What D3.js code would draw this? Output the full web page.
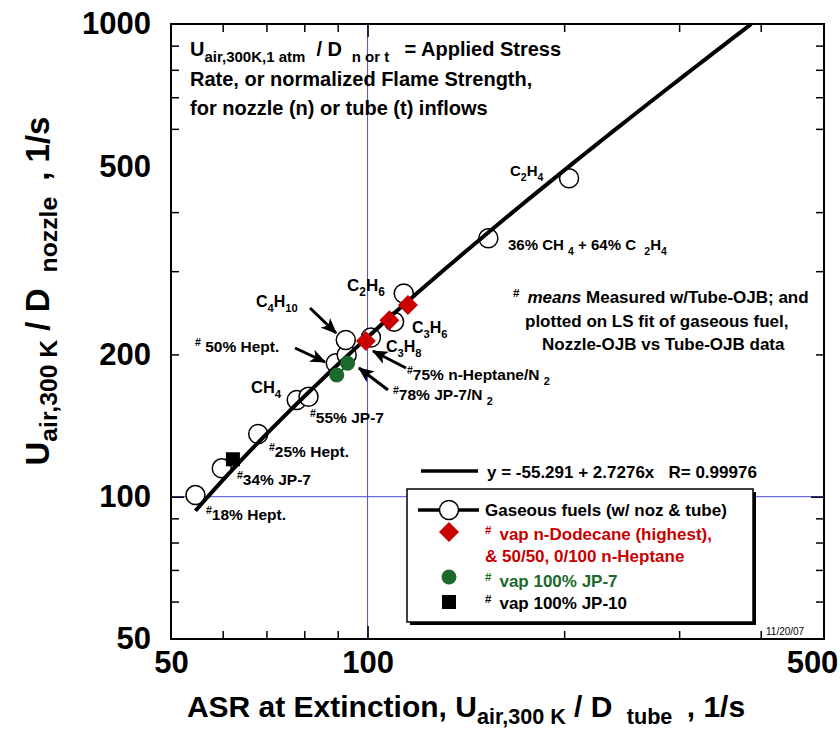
<!DOCTYPE html>
<html>
<head>
<meta charset="utf-8">
<script src="https://cdn.jsdelivr.net/npm/d3@7"></script>
<style>
  body { margin: 0; background: #fff; }
  svg { font-family: "Liberation Sans", Arial, sans-serif; font-weight: bold; }
  text { white-space: pre; }
</style>
</head>
<body>
<svg id="chart" width="840" height="731"></svg>
<script>
// gaseous fuels (open circles): tube ASR vs nozzle ASR
const gasTube   = [54.5, 59.8, 68.0, 77.9, 81.2, 89.4, 92.9, 92.6, 101.2, 109.8, 113.6, 153.1, 203.5];
const gasNozzle = [100.8, 114.8, 135.7, 160.2, 162.7, 191.6, 199.5, 214.6, 217.2, 234.6, 269.1, 352.2, 471.6];
// vaporized liquids plotted on the LS fit
const dodecaneTube   = [115.3, 108.0, 99.4];
const dodecaneNozzle = [254.4, 236.2, 213.6];
const jp7Tube   = [93.2, 89.7];
const jp7Nozzle = [191.6, 180.9];
const jp10Tube   = [62.2];
const jp10Nozzle = [120.0];
// LS fit y = a + b x
const fitIntercept = -55.291;
const fitSlope = 2.7276;
const fitStart = 54.5;
const fitEnd = 1000;           // line runs until it leaves the top of the plot
// ticks
const xTickLabels = [50, 100, 500];
const yTickLabels = [50, 100, 200, 500, 1000];
const xMinorTicks = [60, 70, 80, 90, 200, 300, 400];
const yMinorTicks = [60, 70, 80, 90, 200, 300, 400, 600, 700, 800, 900];
const majorTicks = [100];

const svg = d3.select('#chart');
const x = d3.scaleLog().domain([50, 500]).range([171, 824]);
const y = d3.scaleLog().domain([50, 1000]).range([639, 24]);

// text with sub/superscripts; parts = [{t, k: 0 normal | 1 sub | 2 sup, it, dx}]
function rich(g, px, py, parts, size, opt = {}) {
  const t = g.append('text').attr('x', px).attr('y', py)
    .attr('font-size', size)
    .attr('fill', opt.fill || '#000')
    .attr('text-anchor', opt.anchor || 'start');
  if (opt.rotate) t.attr('transform', `rotate(-90,${px},${py})`);
  let shift = 0;
  parts.forEach(p => {
    const k = p.k || 0;
    const target = k === 1 ? size * (opt.subDrop || 0.3) : k === 2 ? -size * 0.38 : 0;
    const ts = t.append('tspan').text(p.t).attr('dy', target - shift);
    if (k) ts.attr('font-size', size * (k === 1 ? (opt.subScale || 0.7) : 0.68));
    if (p.it) ts.attr('font-style', 'italic');
    if (p.dx) ts.attr('dx', p.dx);
    shift = target;
  });
  return t;
}
const N = t => ({ t });
const S = t => ({ t, k: 1 });
const P = t => ({ t, k: 2 });

// reference lines at 100
svg.append('line').attr('x1', x(100)).attr('x2', x(100)).attr('y1', y(1000)).attr('y2', y(50))
  .attr('stroke', '#4a4ae6').attr('stroke-width', 1);
svg.append('line').attr('x1', x(50)).attr('x2', x(500)).attr('y1', y(100)).attr('y2', y(100))
  .attr('stroke', '#4a4ae6').attr('stroke-width', 1);

// ticks on all four sides, pointing inward
function ticks(axisFn, vals, size, transform, scale) {
  svg.append('g').attr('transform', transform)
    .call(axisFn(scale).tickValues(vals).tickSize(size).tickFormat(''))
    .call(g => g.select('.domain').remove())
    .selectAll('line').attr('stroke', '#000').attr('stroke-width', 1.5);
}
ticks(d3.axisBottom, xMinorTicks, -8, `translate(0,${y(50)})`, x);
ticks(d3.axisBottom, majorTicks, -13, `translate(0,${y(50)})`, x);
ticks(d3.axisTop, xMinorTicks, -8, `translate(0,${y(1000)})`, x);
ticks(d3.axisTop, majorTicks, -13, `translate(0,${y(1000)})`, x);
ticks(d3.axisLeft, yMinorTicks, -8, `translate(${x(50)},0)`, y);
ticks(d3.axisLeft, majorTicks, -13, `translate(${x(50)},0)`, y);
ticks(d3.axisRight, yMinorTicks, -8, `translate(${x(500)},0)`, y);
ticks(d3.axisRight, majorTicks, -13, `translate(${x(500)},0)`, y);

// tick labels
const xl = svg.append('g').attr('transform', `translate(0,${y(50)})`)
  .call(d3.axisBottom(x).tickValues(xTickLabels).tickSize(0).tickPadding(12).tickFormat(d3.format('d')));
xl.select('.domain').remove();
xl.selectAll('text').attr('font-size', 31).attr('font-family', null).attr('fill', '#000')
  .filter(d => d === 500).attr('dx', -12);
const yl = svg.append('g').attr('transform', `translate(${x(50)},0)`)
  .call(d3.axisLeft(y).tickValues(yTickLabels).tickSize(0).tickPadding(20).tickFormat(d3.format('d')));
yl.select('.domain').remove();
yl.selectAll('text').attr('font-size', 31).attr('font-family', null).attr('fill', '#000');

// frame
svg.append('rect').attr('x', x(50)).attr('y', y(1000))
  .attr('width', x(500) - x(50)).attr('height', y(50) - y(1000))
  .attr('fill', 'none').attr('stroke', '#000').attr('stroke-width', 2);

// axis titles
rich(svg, 466, 717, [N('ASR at Extinction, U'), S('air,300 K'), N(' / D '), S(' tube '), N(' , 1/s')], 30, { anchor: 'middle', subScale: 0.72, subDrop: 0.23 });
rich(svg, 49, 291, [N('U'), S('air,300 K'), N(' / D '), S(' nozzle '), N(' , 1/s')], 33, { anchor: 'middle', rotate: true, subScale: 0.75, subDrop: 0.24 });

// open circles for gaseous fuels
const gas = gasTube.map((t, i) => [t, gasNozzle[i]]);
svg.append('g').selectAll('circle').data(gas).join('circle')
  .attr('cx', d => x(d[0])).attr('cy', d => y(d[1])).attr('r', 9.5)
  .attr('fill', '#fff').attr('stroke', '#000').attr('stroke-width', 1.5);

// LS fit line
const fitTo = (fitEnd - fitIntercept) / fitSlope;
const fitXs = d3.range(0, 61).map(i => fitStart * Math.pow(fitTo / fitStart, i / 60));
svg.append('path')
  .datum(fitXs)
  .attr('fill', 'none').attr('stroke', '#000').attr('stroke-width', 4)
  .attr('d', d3.line().x(d => x(d)).y(d => y(fitIntercept + fitSlope * d)));

// vaporized fuels
const diamond = (cx, cy, r) => `M${cx},${cy - r}L${cx + r},${cy}L${cx},${cy + r}L${cx - r},${cy}Z`;
const dodec = dodecaneTube.map((t, i) => [t, dodecaneNozzle[i]]);
svg.append('g').selectAll('path').data(dodec).join('path')
  .attr('d', d => diamond(x(d[0]), y(d[1]), 10)).attr('fill', '#c80000');
const jp7 = jp7Tube.map((t, i) => [t, jp7Nozzle[i]]);
svg.append('g').selectAll('circle').data(jp7).join('circle')
  .attr('cx', d => x(d[0])).attr('cy', d => y(d[1])).attr('r', 7.5).attr('fill', '#1b6a2b');
const jp10 = jp10Tube.map((t, i) => [t, jp10Nozzle[i]]);
svg.append('g').selectAll('rect').data(jp10).join('rect')
  .attr('x', d => x(d[0]) - 7).attr('y', d => y(d[1]) - 7).attr('width', 14).attr('height', 14).attr('fill', '#000');

// arrows
svg.append('defs').append('marker').attr('id', 'ah')
  .attr('viewBox', '0 0 12 10').attr('refX', 11).attr('refY', 5)
  .attr('markerWidth', 16).attr('markerHeight', 14).attr('markerUnits', 'userSpaceOnUse')
  .attr('orient', 'auto')
  .append('path').attr('d', 'M0,0L12,5L0,10L3,5Z').attr('fill', '#000');
const arrows = [[310, 308, 336, 333], [295, 348, 325, 362], [406, 368, 373, 351], [388, 390, 359, 368]];
svg.append('g').selectAll('line').data(arrows).join('line')
  .attr('x1', d => d[0]).attr('y1', d => d[1]).attr('x2', d => d[2]).attr('y2', d => d[3])
  .attr('stroke', '#000').attr('stroke-width', 3).attr('marker-end', 'url(#ah)');

// point labels
const lab = svg.append('g');
rich(lab, 510, 176, [N('C'), S('2'), N('H'), S('4')], 15);
rich(lab, 508, 250, [N('36% CH '), S('4'), N(' + 64% C  '), S('2'), N('H'), S('4')], 15);
rich(lab, 347, 291, [N('C'), S('2'), N('H'), S('6')], 17);
rich(lab, 256, 307, [N('C'), S('4'), N('H'), S('10')], 16);
rich(lab, 412, 333, [N('C'), S('3'), N('H'), S('6')], 16);
rich(lab, 386, 352, [N('C'), S('3'), N('H'), S('8')], 16);
rich(lab, 251, 393, [N('CH'), S('4')], 16.5);
rich(lab, 195, 352, [P('#'), N(' 50% Hept.')], 15.5);
rich(lab, 310, 423, [P('#'), N('55% JP-7')], 15.5);
rich(lab, 269, 457, [P('#'), N('25% Hept.')], 15.5);
rich(lab, 237, 485, [P('#'), N('34% JP-7')], 15.5);
rich(lab, 206, 520, [P('#'), N('18% Hept.')], 15.5);
rich(lab, 407, 380, [P('#'), N('75% n-Heptane/N '), S('2')], 15.5);
rich(lab, 393, 400, [P('#'), N('78% JP-7/N '), S('2')], 15.5);

// explanatory notes
rich(svg, 190, 56, [N('U'), S('air,300K,1 atm'), N('  / D '), S(' n or t '), N('  = Applied Stress')], 20, { subScale: 0.75 });
rich(svg, 190, 86, [N('Rate, or normalized Flame Strength,')], 20);
rich(svg, 190, 115, [N('for nozzle (n) or tube (t) inflows')], 20);
rich(svg, 513, 303, [P('#'), { t: 'means', it: true, dx: 8 }, N(' Measured w/Tube-OJB; and')], 17);
rich(svg, 525, 327, [N('plotted on LS fit of gaseous fuel,')], 17);
rich(svg, 542, 350, [N('Nozzle-OJB vs Tube-OJB data')], 17);

// fit legend
svg.append('line').attr('x1', 421).attr('x2', 478).attr('y1', 471).attr('y2', 471)
  .attr('stroke', '#000').attr('stroke-width', 3.5);
rich(svg, 487, 478, [N('y = -55.291 + 2.7276x   R= 0.99976')], 17);

// legend box
const lg = svg.append('g');
lg.append('rect').attr('x', 410).attr('y', 492).attr('width', 346).attr('height', 133).attr('fill', '#000');
lg.append('rect').attr('x', 407).attr('y', 489).attr('width', 346).attr('height', 133)
  .attr('fill', '#fff').attr('stroke', '#000').attr('stroke-width', 1.5);
lg.append('line').attr('x1', 418).attr('x2', 479).attr('y1', 510).attr('y2', 510)
  .attr('stroke', '#000').attr('stroke-width', 3.5);
lg.append('circle').attr('cx', 449).attr('cy', 510).attr('r', 9.5)
  .attr('fill', '#fff').attr('stroke', '#000').attr('stroke-width', 1.5);
lg.append('path').attr('d', diamond(449, 532, 10)).attr('fill', '#c80000');
lg.append('circle').attr('cx', 449).attr('cy', 577).attr('r', 7.5).attr('fill', '#1b6a2b');
lg.append('rect').attr('x', 442).attr('y', 595).attr('width', 14).attr('height', 14).attr('fill', '#000');
rich(lg, 485, 516, [N('Gaseous fuels (w/ noz & tube)')], 17);
rich(lg, 485, 540, [P('#'), { t: 'vap n-Dodecane (highest),', dx: 8 }], 17, { fill: '#c80000' });
rich(lg, 485, 562, [N('& 50/50, 0/100 n-Heptane')], 17, { fill: '#c80000' });
rich(lg, 485, 587, [P('#'), { t: 'vap 100% JP-7', dx: 8 }], 17, { fill: '#1b6a2b' });
rich(lg, 485, 609, [P('#'), { t: 'vap 100% JP-10', dx: 8 }], 17);

svg.append('text').attr('x', 766).attr('y', 635).attr('font-size', 10).attr('font-weight', 'normal')
  .text('11/20/07');
</script>
</body>
</html>
